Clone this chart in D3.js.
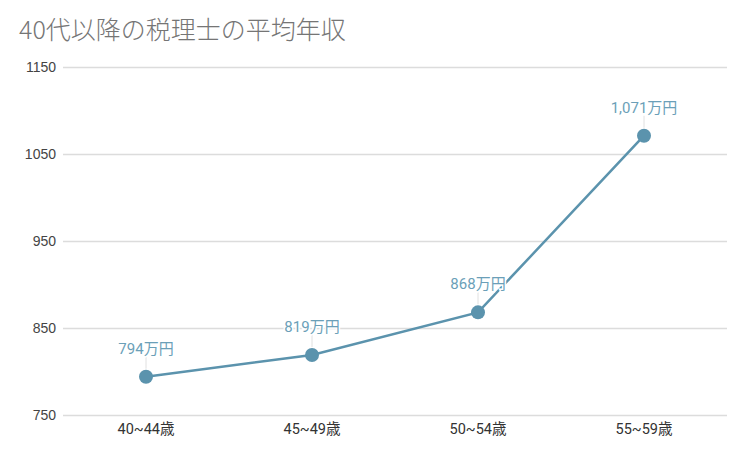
<!DOCTYPE html>
<html><head><meta charset="utf-8">
<script src="https://cdn.jsdelivr.net/npm/d3@7"></script>
<style>
body{margin:0;background:#fff;}
svg{display:block;}
</style></head>
<body>
<svg id="c" width="745" height="458"></svg>
<script>
const title = "40代以降の税理士の平均年収";
const categories = ["40~44歳","45~49歳","50~54歳","55~59歳"];
const values = [794, 819, 868, 1071];
const valueLabels = ["794万円","819万円","868万円","1,071万円"];
const yTicks = [750, 850, 950, 1050, 1150];

const svg = d3.select("#c");
const m = {left:63, right:727, top:67, bottom:415};
const x = d3.scaleBand().domain(categories).range([m.left, m.right]);
const y = d3.scaleLinear().domain([750,1150]).range([m.bottom, m.top]);

svg.append("text").attr("x",19).attr("y",39).text(title)
  .attr("font-family","'Noto Sans CJK JP', 'Noto Sans', sans-serif")
  .attr("font-size",25).attr("font-weight",300).attr("fill","#757575");

const grid = svg.append("g");
grid.selectAll("line").data(yTicks).join("line")
  .attr("x1",m.left).attr("x2",m.right)
  .attr("y1",d=>y(d)+0.5).attr("y2",d=>y(d)+0.5)
  .attr("stroke","#dcdcdc").attr("stroke-width",1.5);

const yAxis = d3.axisLeft(y).tickValues(yTicks).tickSize(0).tickPadding(7).tickFormat(d3.format("d"));
const ga = svg.append("g").attr("transform",`translate(${m.left},0)`).call(yAxis);
ga.select(".domain").remove();
ga.selectAll("text").attr("font-family","'Liberation Sans', Arial, sans-serif").attr("font-size",14).attr("fill","#444");

const xAxis = d3.axisBottom(x).tickSize(0).tickPadding(9);
const gx = svg.append("g").attr("transform",`translate(0,${m.bottom})`).call(xAxis);
gx.select(".domain").remove();
gx.selectAll("text").attr("font-family","Roboto, 'Noto Sans CJK JP', sans-serif").attr("font-size",14.5).attr("fill","#333");

const cx = (d,i)=>x(categories[i]) + x.bandwidth()/2;
const line = d3.line().x((d,i)=>cx(d,i)).y(d=>y(d));

// leader lines
svg.append("g").selectAll("line").data(values).join("line")
  .attr("x1",(d,i)=>cx(d,i)).attr("x2",(d,i)=>cx(d,i))
  .attr("y1",d=>y(d)-8).attr("y2",d=>y(d)-20)
  .attr("stroke","#e0e0e0").attr("stroke-width",1);

svg.append("path").datum(values).attr("d",line)
  .attr("fill","none").attr("stroke","#5b93ad").attr("stroke-width",2.5);

svg.append("g").selectAll("circle").data(values).join("circle")
  .attr("cx",(d,i)=>cx(d,i)).attr("cy",d=>y(d)).attr("r",7)
  .attr("fill","#5b93ad");

svg.append("g").selectAll("text").data(values).join("text")
  .attr("x",(d,i)=>cx(d,i)).attr("y",d=>y(d)-23)
  .attr("text-anchor","middle")
  .text((d,i)=>valueLabels[i])
  .attr("font-family","Roboto, 'Noto Sans CJK JP', sans-serif")
  .attr("font-size",15).attr("fill","#6b9fb8")
  .attr("stroke","#fff").attr("stroke-width",3).attr("paint-order","stroke");
</script>
</body></html>
